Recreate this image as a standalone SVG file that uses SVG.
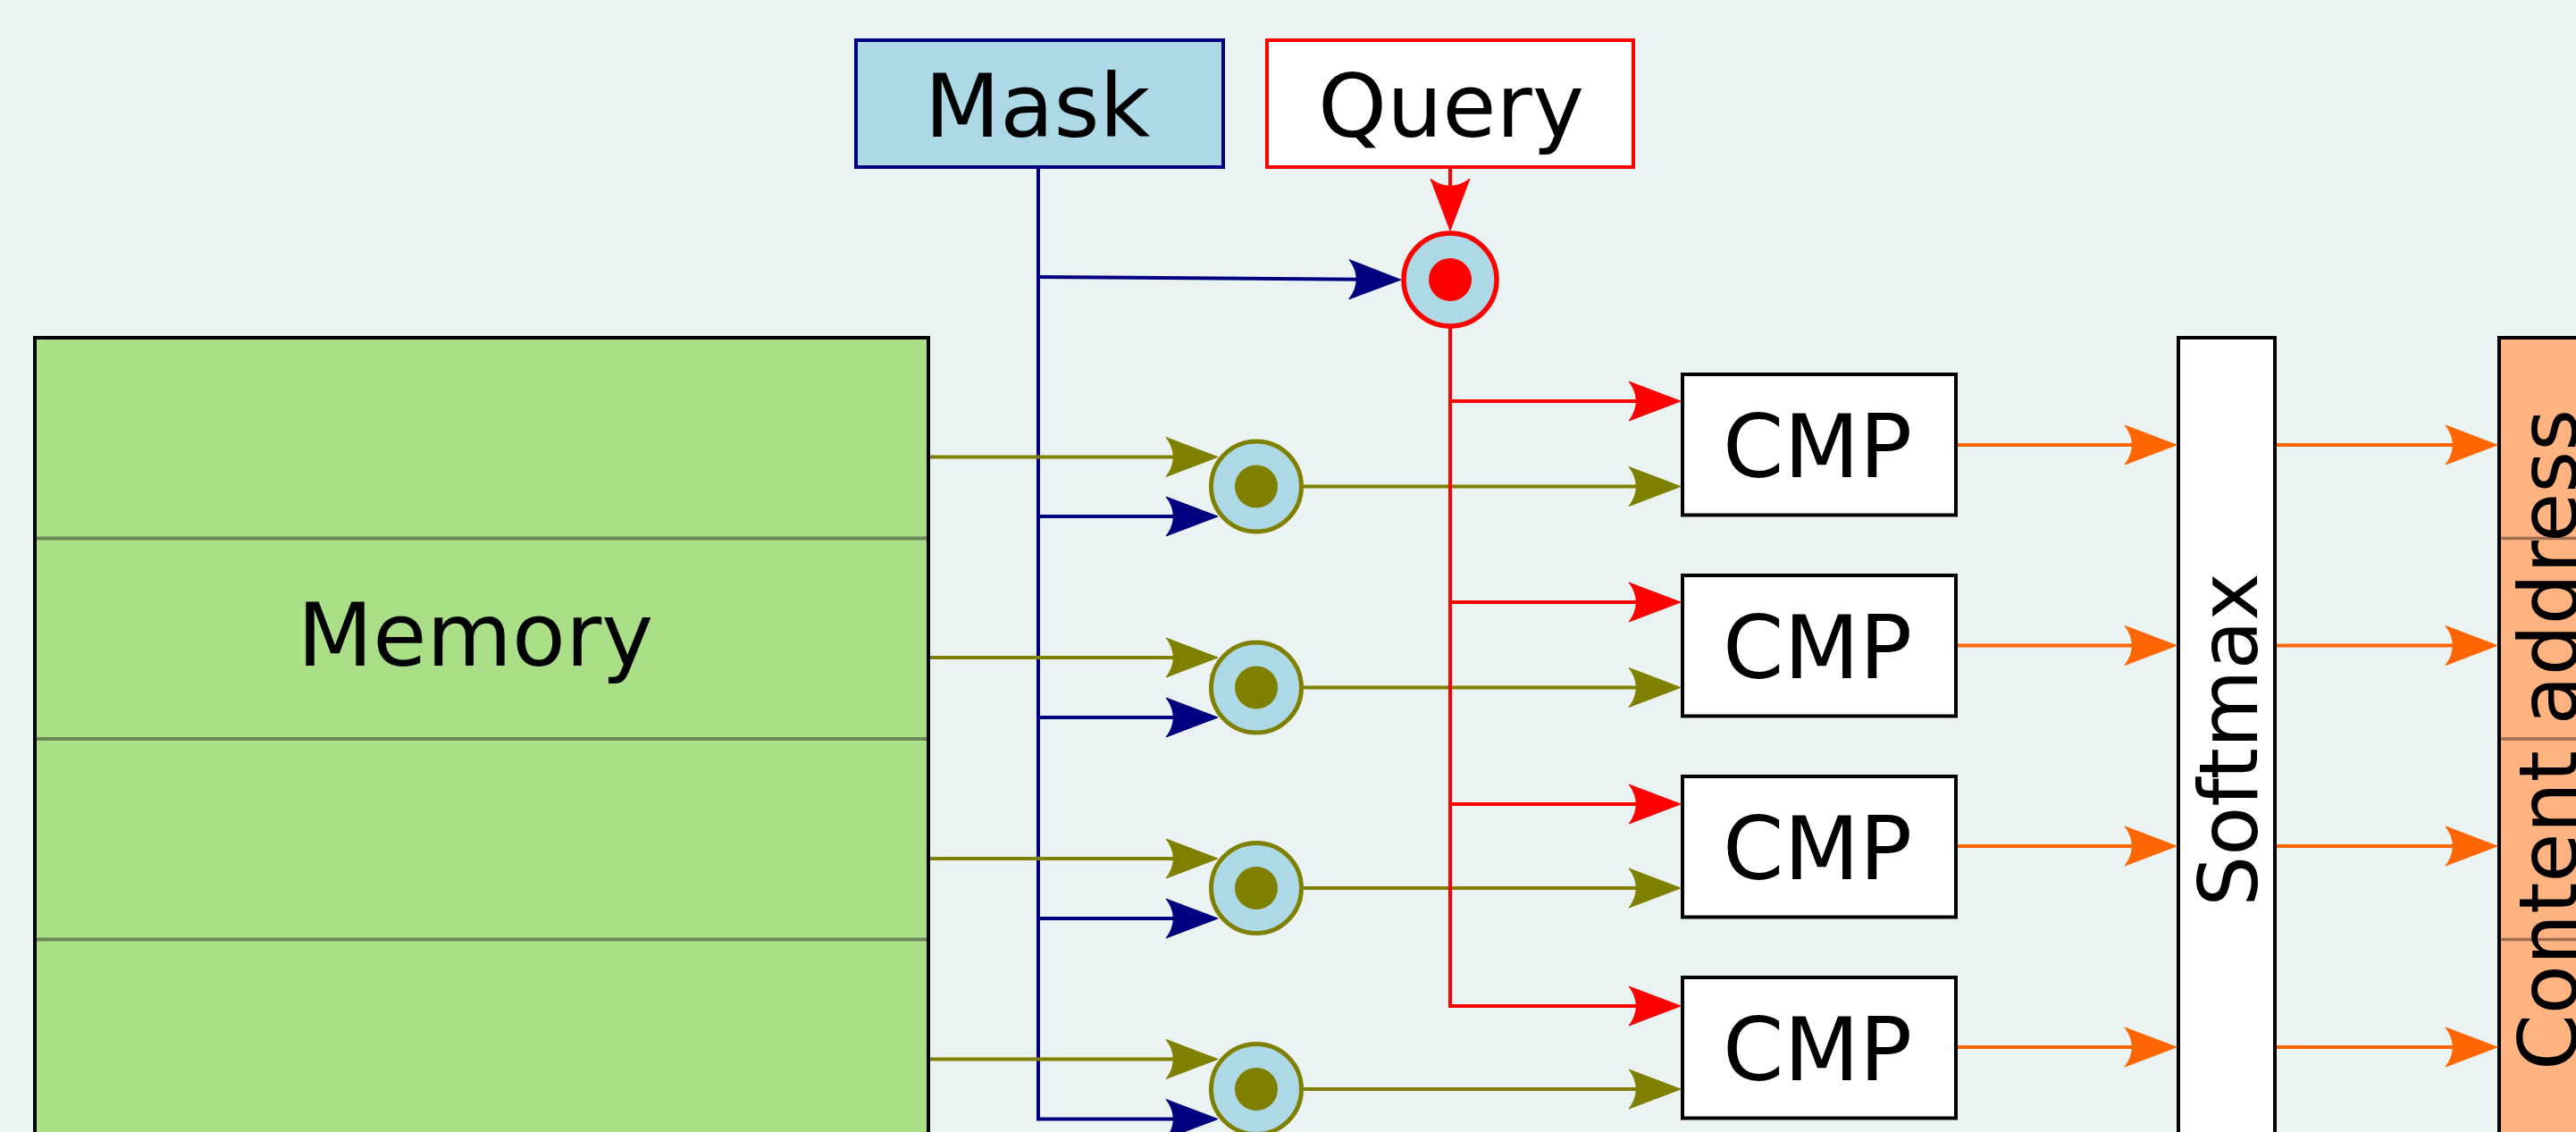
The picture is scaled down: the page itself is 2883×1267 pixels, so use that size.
<svg xmlns="http://www.w3.org/2000/svg" width="2883" height="1267" viewBox="0 0 2883 1267">
<style>
  text { font-family: "DejaVu Sans", "Liberation Sans", sans-serif; fill: #000; }
  .lbl { font-size: 98px; text-anchor: middle; }
  .vlbl { font-size: 90px; text-anchor: middle; }
  .box { stroke: #000; stroke-width: 4; }
  .ln { fill: none; stroke-width: 4; }
  .navy { stroke: #000080; }
  .olive { stroke: #808000; }
  .red { stroke: #ff0000; }
  .orange { stroke: #ff6600; }
</style>
<defs>
  <marker id="a-navy" markerUnits="userSpaceOnUse" markerWidth="90" markerHeight="50" refX="60" refY="25" orient="auto" overflow="visible">
    <path d="M80,25 L22,3 C33,17 33,33 22,47 Z" fill="#000080" stroke="#000080" stroke-width="1" stroke-linejoin="round"/>
  </marker>
  <marker id="a-olive" markerUnits="userSpaceOnUse" markerWidth="90" markerHeight="50" refX="60" refY="25" orient="auto" overflow="visible">
    <path d="M80,25 L22,3 C33,17 33,33 22,47 Z" fill="#808000" stroke="#808000" stroke-width="1" stroke-linejoin="round"/>
  </marker>
  <marker id="a-red" markerUnits="userSpaceOnUse" markerWidth="90" markerHeight="50" refX="60" refY="25" orient="auto" overflow="visible">
    <path d="M80,25 L22,3 C33,17 33,33 22,47 Z" fill="#ff0000" stroke="#ff0000" stroke-width="1" stroke-linejoin="round"/>
  </marker>
  <marker id="a-orange" markerUnits="userSpaceOnUse" markerWidth="90" markerHeight="50" refX="60" refY="25" orient="auto" overflow="visible">
    <path d="M80,25 L22,3 C33,17 33,33 22,47 Z" fill="#ff6600" stroke="#ff6600" stroke-width="1" stroke-linejoin="round"/>
  </marker>
</defs>

<rect x="0" y="0" width="2883" height="1267" fill="#eaf3f1"/>

<g id="memory">
  <rect x="39" y="378" width="1000" height="900" fill="#aade87" class="box"/>
  <g stroke="#6b8757" stroke-width="4">
    <line x1="41" y1="602.5" x2="1037" y2="602.5"/>
    <line x1="41" y1="827" x2="1037" y2="827"/>
    <line x1="41" y1="1051.5" x2="1037" y2="1051.5"/>
  </g>
  <text class="lbl" x="532" y="745">Memory</text>
</g>

<g id="mask">
  <rect x="958" y="45" width="411" height="142" fill="#add8e6" stroke="#000080" stroke-width="4"/>
  <text class="lbl" x="1161" y="153">Mask</text>
</g>

<g id="query">
  <rect x="1418" y="45" width="410" height="142" fill="#ffffff" stroke="#ff0000" stroke-width="4"/>
  <text class="lbl" x="1624" y="153">Query</text>
</g>

<g id="connectors">
  <!-- navy (mask) -->
  <path class="ln navy" d="M1162,187 V1252.5 H1343" marker-end="url(#a-navy)"/>
  <path class="ln navy" d="M1162,310 L1548,313" marker-end="url(#a-navy)"/>
  <path class="ln navy" d="M1162,578 H1343" marker-end="url(#a-navy)"/>
  <path class="ln navy" d="M1162,803 H1343" marker-end="url(#a-navy)"/>
  <path class="ln navy" d="M1162,1028 H1343" marker-end="url(#a-navy)"/>
  <!-- olive (memory rows) -->
  <path class="ln olive" d="M1041,511.5 H1343" marker-end="url(#a-olive)"/>
  <path class="ln olive" d="M1041,736 H1343" marker-end="url(#a-olive)"/>
  <path class="ln olive" d="M1041,961 H1343" marker-end="url(#a-olive)"/>
  <path class="ln olive" d="M1041,1185.5 H1343" marker-end="url(#a-olive)"/>
  <path class="ln olive" d="M1459,544.5 H1861" marker-end="url(#a-olive)"/>
  <path class="ln olive" d="M1459,769.5 H1861" marker-end="url(#a-olive)"/>
  <path class="ln olive" d="M1459,994 H1861" marker-end="url(#a-olive)"/>
  <path class="ln olive" d="M1459,1219 H1861" marker-end="url(#a-olive)"/>
  <!-- red (query) -->
  <path class="ln red" d="M1623,187 V238" marker-end="url(#a-red)"/>
  <path class="ln red" d="M1623,367 V1126 H1861" marker-end="url(#a-red)"/>
  <path class="ln red" d="M1623,449 H1861" marker-end="url(#a-red)"/>
  <path class="ln red" d="M1623,674 H1861" marker-end="url(#a-red)"/>
  <path class="ln red" d="M1623,900 H1861" marker-end="url(#a-red)"/>
  <!-- orange -->
  <path class="ln orange" d="M2191,498 H2416" marker-end="url(#a-orange)"/>
  <path class="ln orange" d="M2191,722.5 H2416" marker-end="url(#a-orange)"/>
  <path class="ln orange" d="M2191,947 H2416" marker-end="url(#a-orange)"/>
  <path class="ln orange" d="M2191,1172 H2416" marker-end="url(#a-orange)"/>
  <path class="ln orange" d="M2548,498 H2775" marker-end="url(#a-orange)"/>
  <path class="ln orange" d="M2548,722.5 H2775" marker-end="url(#a-orange)"/>
  <path class="ln orange" d="M2548,947 H2775" marker-end="url(#a-orange)"/>
  <path class="ln orange" d="M2548,1172 H2775" marker-end="url(#a-orange)"/>
</g>

<g id="query-product">
  <circle cx="1623" cy="313" r="52" fill="#add8e6" stroke="#ff0000" stroke-width="5.5"/>
  <circle cx="1623" cy="313" r="24" fill="#ff0000"/>
</g>

<g id="product-1">
  <circle cx="1406" cy="544.5" r="50.5" fill="#add8e6" stroke="#808000" stroke-width="5"/>
  <circle cx="1406" cy="544.5" r="24" fill="#808000"/>
</g>
<g id="product-2">
  <circle cx="1406" cy="769.5" r="50.5" fill="#add8e6" stroke="#808000" stroke-width="5"/>
  <circle cx="1406" cy="769.5" r="24" fill="#808000"/>
</g>
<g id="product-3">
  <circle cx="1406" cy="994" r="50.5" fill="#add8e6" stroke="#808000" stroke-width="5"/>
  <circle cx="1406" cy="994" r="24" fill="#808000"/>
</g>
<g id="product-4">
  <circle cx="1406" cy="1219" r="50.5" fill="#add8e6" stroke="#808000" stroke-width="5"/>
  <circle cx="1406" cy="1219" r="24" fill="#808000"/>
</g>

<g id="cmp-1">
  <rect x="1883" y="419" width="306" height="157.5" fill="#ffffff" class="box"/>
  <text class="lbl" x="2034" y="534">CMP</text>
</g>
<g id="cmp-2">
  <rect x="1883" y="644" width="306" height="157.5" fill="#ffffff" class="box"/>
  <text class="lbl" x="2034" y="759">CMP</text>
</g>
<g id="cmp-3">
  <rect x="1883" y="869" width="306" height="157.5" fill="#ffffff" class="box"/>
  <text class="lbl" x="2034" y="984">CMP</text>
</g>
<g id="cmp-4">
  <rect x="1883" y="1094" width="306" height="157.5" fill="#ffffff" class="box"/>
  <text class="lbl" x="2034" y="1209">CMP</text>
</g>

<g id="softmax">
  <rect x="2438" y="378" width="108" height="900" fill="#ffffff" class="box"/>
  <text class="vlbl" transform="translate(2526,828) rotate(-90)" x="0" y="0">Softmax</text>
</g>

<g id="content-address">
  <rect x="2797" y="378" width="200" height="900" fill="#ffb380" class="box"/>
  <g stroke="#9e6e50" stroke-width="3.5">
    <line x1="2799" y1="602.5" x2="2883" y2="602.5"/>
    <line x1="2799" y1="827" x2="2883" y2="827"/>
    <line x1="2799" y1="1051.5" x2="2883" y2="1051.5"/>
  </g>
  <text class="vlbl" transform="translate(2884,828) rotate(-90)" x="0" y="0">Content address</text>
</g>
</svg>
